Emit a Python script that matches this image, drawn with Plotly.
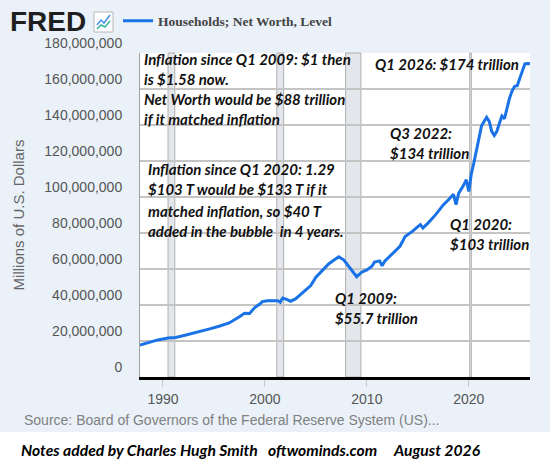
import plotly.graph_objects as go

# ---------------- data ----------------
dates = [
    "1987-10-01", "1988-07-01", "1989-07-01", "1990-07-01", "1991-04-01", "1992-04-01",
    "1993-04-01", "1994-07-01", "1995-07-01", "1996-07-01", "1997-07-01", "1998-01-01",
    "1998-07-01", "1999-01-01", "1999-07-01", "1999-10-01", "2000-04-01", "2000-10-01",
    "2001-04-01", "2001-07-01", "2001-10-01", "2002-04-01", "2002-07-01", "2003-01-01",
    "2003-10-01", "2004-07-01", "2005-01-01", "2005-10-01", "2006-04-01", "2006-10-01",
    "2007-04-01", "2007-10-01", "2008-04-01", "2009-01-01", "2009-07-01", "2010-01-01",
    "2010-07-01", "2010-10-01", "2011-04-01", "2011-07-01", "2011-10-01", "2012-07-01",
    "2013-04-01", "2013-10-01", "2014-07-01", "2015-01-01", "2015-04-01", "2015-07-01",
    "2016-01-01", "2016-10-01", "2017-07-01", "2018-01-01", "2018-07-01", "2018-10-01",
    "2019-01-01", "2019-07-01", "2019-10-01", "2020-01-01", "2020-04-01", "2020-07-01",
    "2020-10-01", "2021-01-01", "2021-04-01", "2021-07-01", "2021-10-01", "2022-01-01",
    "2022-04-01", "2022-07-01", "2022-10-01", "2023-01-01", "2023-04-01", "2023-07-01",
    "2023-10-01", "2024-01-01", "2024-04-01", "2024-07-01", "2024-10-01", "2025-01-01",
    "2025-04-01", "2025-07-01", "2025-10-01", "2026-01-01",
]
net_worth_trillions = [
    17.7, 19.0, 20.6, 21.7, 22.0, 23.3,
    24.6, 26.6, 28.2, 30.0, 33.5, 35.4,
    35.3, 38.6, 40.5, 41.9, 42.4, 42.3,
    42.4, 41.6, 43.9, 42.8, 42.1, 43.4,
    47.2, 50.8, 55.4, 60.0, 62.8, 64.9,
    66.8, 65.0, 61.0, 55.7, 58.2, 59.5,
    61.5, 63.8, 64.5, 61.8, 64.3, 68.4,
    72.6, 78.0, 81.0, 83.6, 84.7, 82.8,
    85.5, 90.2, 95.6, 98.5, 101.5, 95.8,
    102.0, 106.6, 109.6, 103.1, 113.0, 119.0,
    126.0, 134.5, 139.5, 142.0, 144.3, 142.0,
    136.5, 134.2, 136.5, 141.0, 145.0, 143.5,
    150.0, 155.0, 159.0, 161.5, 161.8, 166.0,
    170.5, 174.0, 174.2, 174.0,
]
net_worth_millions = [v * 1_000_000 for v in net_worth_trillions]

series_name = "Households; Net Worth, Level"

recession_starts = ["1990-07-01", "2001-03-01", "2007-12-01", "2020-02-01"]
recession_ends = ["1991-03-01", "2001-11-01", "2009-06-01", "2020-04-01"]

y_tick_values = [0, 20e6, 40e6, 60e6, 80e6, 100e6, 120e6, 140e6, 160e6, 180e6]
y_tick_labels = ["0", "20,000,000", "40,000,000", "60,000,000", "80,000,000",
                 "100,000,000", "120,000,000", "140,000,000", "160,000,000", "180,000,000"]
x_tick_values = ["1990-01-01", "2000-01-01", "2010-01-01", "2020-01-01"]
x_tick_labels = ["1990", "2000", "2010", "2020"]

note_blocks = [
    "Inflation since Q1 2009: $1 then<br>is $1.58 now.",
    "Net Worth would be $88 trillion<br>if it matched inflation",
    "Inflation since Q1 2020: 1.29<br>$103 T would be $133 T if it",
    "matched inflation, so $40 T<br>added in the bubble  in 4 years.",
    "Q1 2026: $174 trillion",
    "Q3 2022:<br>$134 trillion",
    "Q1 2020:<br>$103 trillion",
    "Q1 2009:<br>$55.7 trillion",
]
source_text = "Source: Board of Governors of the Federal Reserve System (US)..."
footer_text = "Notes added by Charles Hugh Smith   oftwominds.com     August 2026"

# ---------------- layout geometry ----------------
W, H = 550, 466
L, R, T, B = 140, 530, 53, 377


def px(x):
    return (x - L) / (R - L)


def py(y):
    return (B - y) / (B - T)


BG = "#eaf1f9"
LINE_BLUE = "#1a73e6"
TXT = "#555555"

fig = go.Figure()
fig.add_trace(go.Scatter(
    x=dates, y=net_worth_millions, mode="lines", name=series_name,
    line=dict(color=LINE_BLUE, width=3), showlegend=True,
))

shapes = []
for s, e in zip(recession_starts, recession_ends):
    shapes.append(dict(type="rect", xref="x", yref="paper", x0=s, x1=e, y0=0, y1=1,
                       fillcolor="#e3e7ec", line=dict(color="#b0b0b0", width=1),
                       layer="below"))

# FRED logo icon (decoration)
shapes.append(dict(type="rect", xref="paper", yref="paper",
                   x0=px(94), x1=px(113), y0=py(32), y1=py(12),
                   fillcolor="white", line=dict(color="#b8b8b8", width=1)))
shapes.append(dict(type="path", xref="paper", yref="paper",
                   path=f"M{px(97)},{py(25)} L{px(101)},{py(20)} L{px(104)},{py(23)} L{px(110)},{py(15)}",
                   line=dict(color="#4a90e2", width=1.5)))
shapes.append(dict(type="path", xref="paper", yref="paper",
                   path=f"M{px(97)},{py(29)} L{px(101)},{py(25)} L{px(105)},{py(27)} L{px(110)},{py(21)}",
                   line=dict(color="#3db39e", width=1.5)))

note_font = dict(family="Lato, 'Open Sans', sans-serif", size=15, color="#111111")
note_pos = [  # (left px, top px)
    (142, 48), (142, 88), (146, 158), (146, 200),
    (373, 53), (388, 122), (448, 213), (333, 287),
]
annotations = []
for txt, (ax, ay) in zip(note_blocks, note_pos):
    annotations.append(dict(text=f"<b><i>{txt}</i></b>", xref="paper", yref="paper",
                            x=px(ax), y=py(ay), xanchor="left", yanchor="top",
                            showarrow=False, align="left", font=note_font))

annotations.append(dict(text="<b>FRED</b>", xref="paper", yref="paper",
                        x=px(8), y=py(21), xanchor="left", yanchor="middle", showarrow=False,
                        font=dict(family="Liberation Sans, Arial, sans-serif", size=28, color="#1f1f1f")))
annotations.append(dict(text=source_text, xref="paper", yref="paper",
                        x=px(22), y=py(420), xanchor="left", yanchor="middle", showarrow=False,
                        font=dict(family="Liberation Sans, Arial, sans-serif", size=14, color="#808080")))
annotations.append(dict(text=f"<b><i>{footer_text}</i></b>", xref="paper", yref="paper",
                        x=px(19), y=py(450), xanchor="left", yanchor="middle", showarrow=False,
                        font=dict(family="Lato, 'Open Sans', sans-serif", size=15.7, color="#000000")))

# white strip at bottom of page
shapes.append(dict(type="rect", xref="paper", yref="paper",
                   x0=px(-5), x1=px(560), y0=py(470), y1=py(432),
                   fillcolor="white", line=dict(width=0), layer="below"))

fig.update_layout(
    width=W, height=H,
    margin=dict(l=L, r=W - R, t=T, b=H - B, autoexpand=False),
    paper_bgcolor=BG, plot_bgcolor="white",
    shapes=shapes, annotations=annotations,
    showlegend=True,
    legend=dict(orientation="h", x=px(118), y=py(21), xanchor="left", yanchor="middle",
                bgcolor="rgba(0,0,0,0)", itemwidth=30,
                font=dict(family="Liberation Serif, 'Times New Roman', serif", size=13.5,
                          color="#444444", weight="bold")),
    xaxis=dict(type="date", range=["1987-10-01", "2026-01-01"], automargin=False,
               tickvals=x_tick_values, ticktext=x_tick_labels,
               showgrid=False, zeroline=False,
               showline=True, linecolor="#000000", linewidth=2.5,
               ticks="outside", ticklen=7, tickcolor="#c8c8c8", tickwidth=1,
               tickfont=dict(family="Liberation Sans, Arial, sans-serif", size=14, color=TXT)),
    yaxis=dict(range=[0, 180e6], tickvals=y_tick_values, ticktext=y_tick_labels, automargin=False,
               showgrid=True, gridcolor="#c4c4c4", gridwidth=1.5, zeroline=False,
               showline=True, linecolor="#a0a0a0", linewidth=1,
               ticks="", ticklabelposition="outside top", ticklabelstandoff=14,
               tickfont=dict(family="Liberation Sans, Arial, sans-serif", size=14, color=TXT),
               title=dict(text="Millions of U.S. Dollars", standoff=16,
                          font=dict(family="Liberation Sans, Arial, sans-serif", size=15, color="#666666"))),
)

fig.write_html("out.html", config={"displayModeBar": False},
               post_script="document.body.style.margin='0px';document.body.style.overflow='hidden';")
